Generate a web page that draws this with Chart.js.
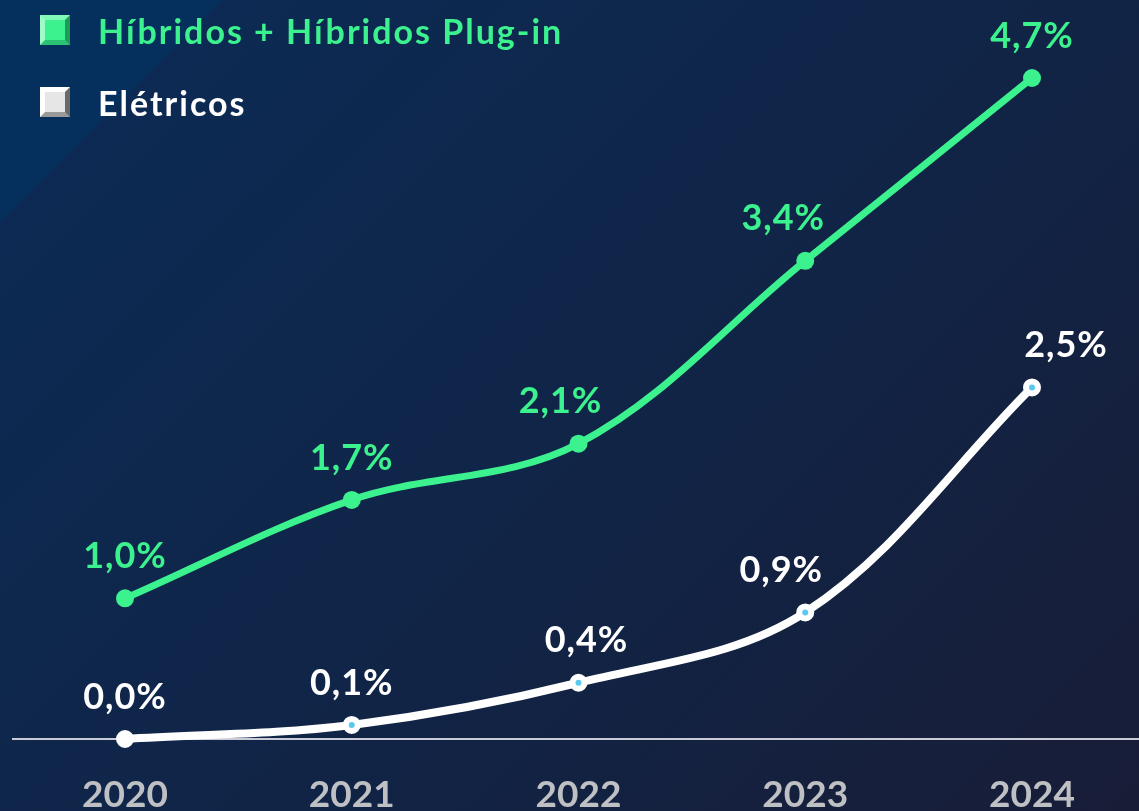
<!DOCTYPE html>
<html>
<head>
<meta charset="utf-8">
<script src="https://cdn.jsdelivr.net/npm/chart.js"></script>
<style>
  html, body { margin: 0; padding: 0; }
  body {
    width: 1139px; height: 811px; overflow: hidden;
    background: linear-gradient(135deg, #052f5c 0%, #052f5c 11.3%, #0c2a53 11.5%, #102548 50%, #181d37 100%);
    font-family: Lato, "Open Sans", sans-serif;
  }
  .wrap { position: relative; width: 1139px; height: 811px; }
  .legend { position: absolute; left: 40px; top: 8px; }
  .item { display: flex; align-items: center; height: 44px; margin-bottom: 28px; font-weight: 700; font-size: 34px; letter-spacing: 2px; }
  .box { width: 30px; height: 30px; margin-right: 28px; box-sizing: border-box; border: 5px solid; }
  .green { color: #3cf28e; }
  .green .box { background: #3cf28e; border-color: #7ff8b8 #1f9a58 #2cc273 #9ff9c8; }
  .white { color: #ffffff; }
  .white .box { background: #e6e6e6; border-color: #ffffff #6a6a6a #9a9a9a #ffffff; }
</style>
</head>
<body>
<div class="wrap">
  <canvas id="lineChart"></canvas>
  <div class="legend">
    <div class="item green"><span class="box"></span>Híbridos + Híbridos Plug-in</div>
    <div class="item white"><span class="box"></span>Elétricos</div>
  </div>
</div>
<script>
const anos = ['2020', '2021', '2022', '2023', '2024'];
const hibridos = [1.0, 1.7, 2.1, 3.4, 4.7];
const eletricos = [0.0, 0.1, 0.4, 0.9, 2.5];

const verde = '#3cf28e';
const branco = '#ffffff';

// deslocamento horizontal das etiquetas (estilo)
const dxHib = [0, 0, -18, -22, 0];
const dxEle = [0, 0, 8, -24, 34];

const fmt = v => v.toFixed(1).replace('.', ',') + '%';

const labelsPlugin = {
  id: 'rotulos',
  beforeDatasetsDraw(chart) {
    const c = chart.ctx;
    const y0 = chart.scales.y.getPixelForValue(0);
    c.save();
    c.strokeStyle = '#c9ccd6';
    c.lineWidth = 2;
    c.beginPath();
    c.moveTo(12, y0);
    c.lineTo(chart.width, y0);
    c.stroke();
    c.restore();
  },
  afterDatasetsDraw(chart) {
    const c = chart.ctx;
    c.save();
    c.font = 'bold 36px Lato, "Open Sans", sans-serif';
    c.letterSpacing = '1px';
    c.textAlign = 'center';
    c.textBaseline = 'middle';
    chart.data.datasets.forEach((ds, i) => {
      const meta = chart.getDatasetMeta(i);
      const dx = i === 0 ? dxHib : dxEle;
      c.fillStyle = i === 0 ? verde : branco;
      meta.data.forEach((pt, j) => {
        c.fillText(fmt(ds.data[j]), pt.x + dx[j], pt.y - 42);
      });
    });
    c.restore();
  }
};

const ctx = document.getElementById('lineChart');
new Chart(ctx, {
  type: 'line',
  data: {
    labels: anos,
    datasets: [{
      label: 'Híbridos + Híbridos Plug-in',
      data: hibridos,
      borderColor: verde,
      backgroundColor: verde,
      borderWidth: 7,
      tension: 0.35,
      pointRadius: 9,
      pointBackgroundColor: verde,
      pointBorderWidth: 0,
      clip: false
    }, {
      label: 'Elétricos',
      data: eletricos,
      borderColor: branco,
      backgroundColor: branco,
      borderWidth: 8,
      tension: 0.35,
      pointRadius: 6,
      pointBorderWidth: 6,
      pointBorderColor: branco,
      pointBackgroundColor: [branco, '#5bc8f0', '#5bc8f0', '#5bc8f0', '#5bc8f0'],
      clip: false
    }]
  },
  options: {
    responsive: true,
    maintainAspectRatio: false,
    animation: false,
    layout: { padding: { top: 78, left: 125, right: 107, bottom: 0 } },
    plugins: { legend: { display: false }, tooltip: { enabled: false } },
    scales: {
      x: {
        offset: false,
        grid: { display: false, drawTicks: false },
        border: { display: false },
        ticks: {
          color: '#bfc0c4',
          font: { family: 'Lato, "Open Sans", sans-serif', size: 37, weight: 'bold' },
          padding: 34,
          maxRotation: 0
        },
        afterFit(scale) { scale.height = 72; }
      },
      y: {
        display: false,
        min: 0,
        max: 4.7
      }
    }
  },
  plugins: [labelsPlugin]
});
</script>
</body>
</html>
